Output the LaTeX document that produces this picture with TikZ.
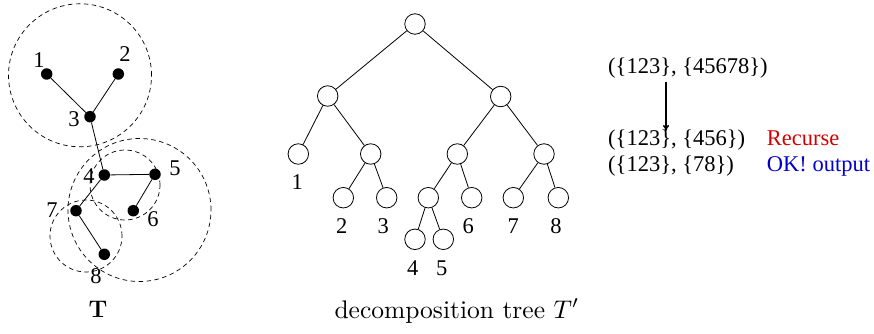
\documentclass[tikz,border=0pt]{standalone}
\usepackage{fontspec}
\newfontfamily\tms{Liberation Serif}
\usetikzlibrary{arrows.meta}
\definecolor{recred}{RGB}{210,0,0}
\definecolor{okblue}{RGB}{0,0,205}
\begin{document}
\begin{tikzpicture}[x=1pt,y=-1pt,
 dot/.style={circle,fill=black,inner sep=0pt,minimum size=11.5pt},
 onode/.style={circle,draw,line width=0.8pt,inner sep=0pt,minimum size=20.5pt},
 lbl/.style={font=\tms\fontsize{22.5}{27}\selectfont,inner sep=0pt},
 grp/.style={circle,draw,dash pattern=on 4.5pt off 3.5pt,line width=0.7pt,inner sep=0pt},
 edge/.style={line width=0.8pt}]
\useasboundingbox (0,0) rectangle (874,334);
% ---- left tree T ----
\node[dot] (t1) at (46.7,74) {};
\node[dot] (t2) at (118.3,74) {};
\node[dot] (t3) at (90,116.7) {};
\node[dot] (t4) at (104.3,175) {};
\node[dot] (t5) at (155,174.3) {};
\node[dot] (t6) at (133.3,210.7) {};
\node[dot] (t7) at (76,210.7) {};
\node[dot] (t8) at (104.3,254.3) {};
\draw[edge] (t1) -- (t3);
\draw[edge] (t2) -- (t3);
\draw[edge] (t3) -- (t4);
\draw[edge] (t4) -- (t5);
\draw[edge] (t4) -- (t7);
\draw[edge] (t5) -- (t6);
\draw[edge] (t7) -- (t8);
\node[lbl] (l1) at (39,60) {1};
\node[lbl] (l2) at (125,54) {2};
\node[lbl] (l3) at (74,119) {3};
\node[lbl] (l4) at (89,176) {4};
\node[lbl] (l5) at (175,168.5) {5};
\node[lbl] (l6) at (153,219.5) {6};
\node[lbl] (l7) at (52,210.5) {7};
\node[lbl] (l8) at (96,276) {8};
% groups
\node[grp,minimum size=143pt] (g123) at (80,75.3) {};
\node[grp,minimum size=143pt] (g45678) at (139.5,210) {};
\node[grp,minimum size=70pt] (g456) at (125,185) {};
\node[grp,minimum size=72pt] (g78) at (86,236) {};
% ---- decomposition tree T' ----
\node[onode] (r) at (415,24) {};
\node[onode] (a) at (327.7,96) {};
\node[onode] (b) at (500.7,96.5) {};
\node[onode] (c1) at (298.3,154) {};
\node[onode] (c23) at (370.7,154) {};
\node[onode] (c456) at (457.3,154) {};
\node[onode] (c78) at (544,154) {};
\node[onode] (d2) at (343.3,197.7) {};
\node[onode] (d3) at (386.7,197.7) {};
\node[onode] (d45) at (428.3,197.7) {};
\node[onode] (d6) at (471.7,197.7) {};
\node[onode] (d7) at (513.3,197.7) {};
\node[onode] (d8) at (558.3,197.7) {};
\node[onode] (e4) at (415,239.3) {};
\node[onode] (e5) at (443.3,239.3) {};
\draw[edge] (r) -- (a);
\draw[edge] (r) -- (b);
\draw[edge] (a) -- (c1);
\draw[edge] (a) -- (c23);
\draw[edge] (c23) -- (d2);
\draw[edge] (c23) -- (d3);
\draw[edge] (b) -- (c456);
\draw[edge] (b) -- (c78);
\draw[edge] (c456) -- (d45);
\draw[edge] (c456) -- (d6);
\draw[edge] (d45) -- (e4);
\draw[edge] (d45) -- (e5);
\draw[edge] (c78) -- (d7);
\draw[edge] (c78) -- (d8);
\node[lbl] (m1) at (297.3,181.7) {1};
\node[lbl] (m2) at (341.7,226) {2};
\node[lbl] (m3) at (383.3,226) {3};
\node[lbl] (m6) at (468.3,226) {6};
\node[lbl] (m7) at (513.3,226) {7};
\node[lbl] (m8) at (556,226) {8};
\node[lbl] (m4) at (412.7,268) {4};
\node[lbl] (m5) at (441.7,268) {5};
% ---- right text ----
\node[lbl,anchor=base west] (s1) at (608,73.3) {(\{123\}, \{45678\})};
\node[lbl,anchor=base west] (s2) at (608,145) {(\{123\}, \{456\})};
\node[lbl,anchor=base west] (s3) at (608,171.7) {(\{123\}, \{78\})};
\node[lbl,anchor=base west,text=recred] (rec) at (766.7,145) {Recurse};
\node[lbl,anchor=base west,text=okblue] (ok) at (766.7,171.7) {OK! output};
\coordinate (ar1) at (666,81.7);
\coordinate (ar2) at (666,131);
\draw[line width=1.6pt,-{To[length=6pt,width=6pt]}] (ar1) -- (ar2);
% ---- captions ----
\node[inner sep=0pt,anchor=base,font=\fontsize{24}{28}\selectfont\bfseries] (capT) at (98,317) {T};
\node[inner sep=0pt,anchor=base west,font=\fontsize{10}{12}\selectfont,scale=2.55] (capD) at (334,318) {decomposition tree $T'$};
\end{tikzpicture}
\end{document}
